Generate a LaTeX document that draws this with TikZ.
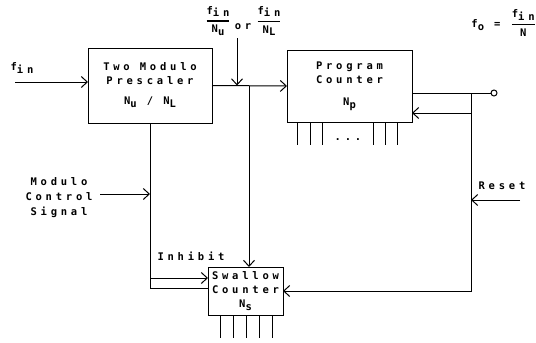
\documentclass[tikz,border=0pt]{standalone}
\usepackage{amsmath}
\usepackage{fontspec}
\newfontfamily\plotfont[LetterSpace=36]{DejaVu Sans Mono}
\usetikzlibrary{arrows.meta,positioning,calc}
\newcommand{\sbs}[1]{\raisebox{-.5ex}{#1}}
\newcommand{\ratio}[2]{$\genfrac{}{}{1.2pt}{0}{\text{#1}}{\text{#2}}$}
\tikzset{
  blk/.style={draw, line width=1pt, inner sep=0pt, outer sep=0pt, align=center, font=\plotfont\bfseries\fontsize{10.5}{14}\selectfont},
  ar/.style={-{Straight Barb[length=6pt,width=11pt]}, line width=1pt},
  wire/.style={line width=1pt},
  lbl/.style={font=\plotfont\bfseries\fontsize{10.5}{15}\selectfont, align=center, inner sep=1pt},
}

\begin{document}
\begin{tikzpicture}[x=1pt, y=-1pt]
  \useasboundingbox (0,0) rectangle (536,343);
  % blocks
  \node[blk, minimum width=124pt, minimum height=75pt] (pre) at (150,85.5) {Two Modulo\\Prescaler\\[6pt]N\sbs{u} / N\sbs{L}};
  \node[blk, minimum width=125pt, minimum height=72pt] (prog) at (349.5,86) {Program\\Counter\\[8pt]N\sbs{p}};
  \node[blk, minimum width=75pt, minimum height=48pt] (swal) at (245.5,291) {Swallow\\Counter\\N\sbs{s}};
  \node[draw, circle, line width=1pt, minimum size=6pt, inner sep=0pt] (fo) at (494,93) {};
  % points
  \coordinate (in) at (15,82);
  \coordinate (top) at (237,38);
  \coordinate (br) at (249,85.5);
  \coordinate (inh) at (150,278);
  \coordinate (mc) at (100,194);
  \coordinate (tap) at (471,93);
  \coordinate (fb) at (471,113);
  \coordinate (rst) at (520,200);
  % connectors
  \draw[ar] (in) -- (in -| pre.west);
  \draw[ar] (pre.east) -- (prog.west);
  \draw[ar] (top) -- (top |- pre.east);
  \draw[ar] (br) -- (br |- swal.north);
  \draw[wire] (pre.south) |- ([yshift=3pt]swal.west);
  \draw[ar] (inh) -- (inh -| swal.west);
  \draw[ar] (mc) -- (mc -| pre.south);
  \draw[wire] ([yshift=-7pt]prog.east) -- (fo.west);
  \draw[ar] (tap) |- (swal.east);
  \draw[ar] (fb) -- (fb -| prog.east);
  \draw[ar] (rst) -- (rst -| tap);
  % counter outputs
  \foreach \x in {297,310,322,373,385,397}
    \draw[wire] (\x,0 |- prog.south) -- ++(0,23);
  \foreach \x in {220,233,246,259,272}
    \draw[wire] (\x,0 |- swal.south) -- ++(0,23);
  \node[lbl] (dots) at (348,140) {...};
  % labels
  \node[lbl] (finlbl) at (22,68) {f\sbs{in}};
  \node[lbl] (fnu) at (218,21) {\ratio{f\sbs{in}}{N\sbs{u}}};
  \node[lbl] (orlbl) at (243,27) {or};
  \node[lbl] (fnl) at (269,21) {\ratio{f\sbs{in}}{N\sbs{L}}};
  \node[lbl, anchor=east] (folbl) at (537,23) {f\sbs{o} = \ratio{f\sbs{in}}{N}};
  \node[lbl] (mclbl) at (59,198) {Modulo\\Control\\Signal};
  \node[lbl] (inhlbl) at (191,256) {Inhibit};
  \node[lbl] (rstlbl) at (502,186) {Reset};
\end{tikzpicture}
\end{document}
